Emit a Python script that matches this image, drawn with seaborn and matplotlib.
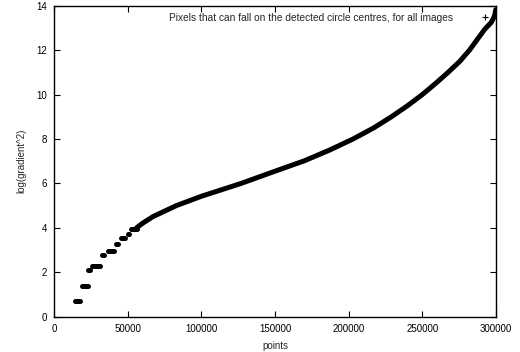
import matplotlib
matplotlib.use("Agg")
import matplotlib.pyplot as plt
from matplotlib.lines import Line2D
import seaborn as sns
import pandas as pd

# Discrete levels at the low end (sorted log values of small integers)
step_start = [14050, 19000, 23080, 26000, 32780, 36650, 42080, 45470, 50220, 52260]
step_end = [17850, 22870, 24230, 31420, 34140, 40520, 43440, 48190, 50900, 56330]
step_level = [0.69, 1.39, 2.08, 2.30, 2.77, 2.97, 3.27, 3.53, 3.72, 3.94]

# Continuous part of the sorted curve
curve_x = [56000, 60000, 67000, 75000, 83000, 100000, 127000, 150000, 170000,
           187000, 203000, 217000, 229000, 240000, 250000, 259000, 267500,
           275500, 282000, 287500, 292500, 296800, 298800, 299500, 299800]
curve_y = [4.00, 4.20, 4.50, 4.75, 5.00, 5.42, 6.00, 6.55, 7.02,
           7.50, 8.00, 8.50, 9.00, 9.50, 10.00, 10.50, 11.00,
           11.50, 12.00, 12.50, 12.95, 13.25, 13.50, 13.68, 13.82]

legend_label = "Pixels that can fall on the detected circle centres, for all images"

sns.set_style("ticks")
plt.rcParams["font.family"] = ["Liberation Sans", "DejaVu Sans"]

fig = plt.figure(figsize=(5.2, 3.52), dpi=100)
ax = fig.add_axes([54 / 520, 1 - 316.7 / 352, 442 / 520, (316.7 - 5.7) / 352])

curve = pd.DataFrame({"points": curve_x, "value": curve_y})
sns.lineplot(data=curve, x="points", y="value", ax=ax, color="black",
             linewidth=3.6, solid_capstyle="round", solid_joinstyle="round")
ax.hlines(step_level, step_start, step_end, color="black", linewidth=3.6,
          capstyle="round")

ax.set_xlim(0, 300000)
ax.set_ylim(0, 14)
ax.set_xticks(range(0, 300001, 50000))
ax.set_yticks(range(0, 15, 2))
ax.tick_params(direction="in", length=4, width=0.8, top=True, right=True,
               labelsize=7, colors="black", pad=5)
for side in ["top", "bottom", "left", "right"]:
    ax.spines[side].set_visible(True)
    ax.spines[side].set_linewidth(1.0)
    ax.spines[side].set_color("black")

ax.set_xlabel("points", fontsize=7, labelpad=5)
ax.set_ylabel("log(gradient^2)", fontsize=7, labelpad=7)

handle = Line2D([], [], linestyle="none", marker="+", color="black",
                markersize=4, markeredgewidth=0.8)
ax.legend([handle], [legend_label], loc="upper right", frameon=False,
          markerfirst=False, fontsize=7.3, handlelength=1.2, handletextpad=2.6,
          borderaxespad=0.3, bbox_to_anchor=(1.005, 1.0))

fig.savefig("out.png", dpi=100)
